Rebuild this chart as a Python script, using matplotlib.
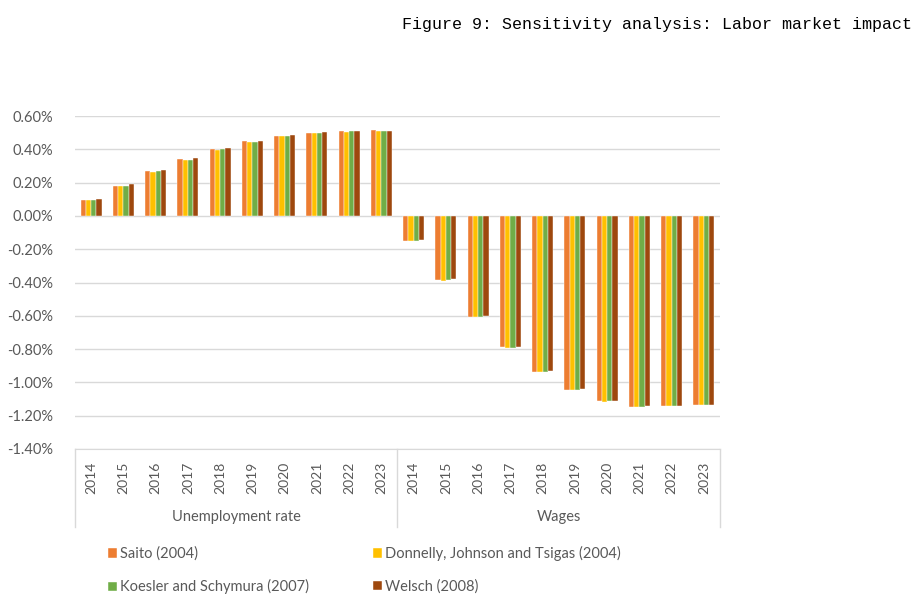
import matplotlib
matplotlib.use("Agg")
import matplotlib.pyplot as plt
import matplotlib.transforms as mtransforms
from matplotlib.ticker import FuncFormatter
import numpy as np

years = ["2014", "2015", "2016", "2017", "2018", "2019", "2020", "2021", "2022", "2023"]
groups = ["Unemployment rate", "Wages"]
series_names = ["Saito (2004)", "Donnelly, Johnson and Tsigas (2004)",
                "Koesler and Schymura (2007)", "Welsch (2008)"]

# values in percent, unemployment rate years then wages years
saito = [0.094, 0.182, 0.270, 0.344, 0.402, 0.448, 0.482, 0.500, 0.508, 0.514,
         -0.150, -0.386, -0.608, -0.790, -0.938, -1.044, -1.114, -1.146, -1.142, -1.136]
donnelly = [0.094, 0.178, 0.266, 0.338, 0.398, 0.444, 0.478, 0.498, 0.506, 0.512,
            -0.150, -0.388, -0.610, -0.792, -0.940, -1.046, -1.116, -1.148, -1.142, -1.138]
koesler = [0.094, 0.182, 0.268, 0.338, 0.400, 0.446, 0.480, 0.500, 0.508, 0.512,
           -0.150, -0.386, -0.608, -0.792, -0.938, -1.046, -1.114, -1.146, -1.142, -1.138]
welsch = [0.100, 0.192, 0.278, 0.350, 0.408, 0.452, 0.486, 0.502, 0.508, 0.512,
          -0.142, -0.380, -0.602, -0.786, -0.932, -1.040, -1.110, -1.144, -1.142, -1.138]

colors = ["#ED7D31", "#FFC000", "#70AD47", "#9E480E"]
W, H = 920, 595

plt.rcParams["font.family"] = ["Lato", "DejaVu Sans"]

fig = plt.figure(figsize=(9.2, 5.95), dpi=100)
ax = fig.add_axes([75 / W, 1 - 449 / H, (720 - 75) / W, (449 - 116) / H])

x = np.arange(len(years) * len(groups))
bw = 0.162
for i, (vals, name) in enumerate(zip([saito, donnelly, koesler, welsch], series_names)):
    ax.bar(x + (i - 1.5) * bw, vals, bw, color=colors[i], label=name,
           edgecolor="white", linewidth=0.3, zorder=3)

ax.set_xlim(-0.5, len(x) - 0.5)
ax.set_ylim(-1.4, 0.6)
ax.set_yticks(np.arange(-1.4, 0.61, 0.2))
ax.yaxis.set_major_formatter(FuncFormatter(lambda v, p: f"{v + 0.0:.2f}%".replace("-0.00", "0.00")))
ax.grid(axis="y", color="#D9D9D9", linewidth=1, zorder=0)
for s in ["top", "left", "right"]:
    ax.spines[s].set_visible(False)
ax.spines["bottom"].set_color("#D9D9D9")
ax.tick_params(axis="y", length=0, pad=16, labelsize=10.5, labelcolor="#595959")
ax.set_xticks(x)
ax.set_xticklabels(years * 2, rotation=90, va="top")
ax.tick_params(axis="x", length=0, pad=9, labelsize=10, labelcolor="#595959")

trans = mtransforms.blended_transform_factory(ax.transData, ax.transAxes)
for xs in [-0.5, 9.5, 19.5]:
    ax.plot([xs, xs], [0, -78 / 333], color="#D9D9D9", linewidth=1,
            transform=trans, clip_on=False)
for k, g in enumerate(groups):
    ax.text(4.5 + 10 * k, -68 / 333, g, transform=trans, ha="center", va="center",
            fontsize=10.5, color="#595959")

handles, labels = ax.get_legend_handles_labels()
order = [0, 2, 1, 3]
fig.legend([handles[j] for j in order], [labels[j] for j in order], ncol=2,
           loc="upper left", bbox_to_anchor=(95 / W, 1 - 533 / H), frameon=False,
           handlelength=0.6, handleheight=0.6, handletextpad=0.2, columnspacing=4.4,
           labelspacing=1.25, fontsize=10.5, labelcolor="#595959")

fig.text(402 / W, 1 - 24 / H, "Figure 9: Sensitivity analysis: Labor market impact",
         family="Liberation Mono", fontsize=12, va="center", ha="left", color="black")

fig.savefig("out.png", dpi=100)
